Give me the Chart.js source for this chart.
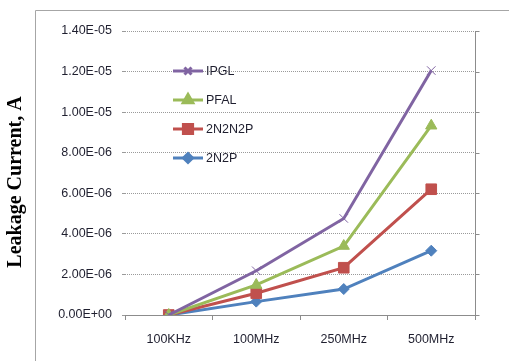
<!DOCTYPE html>
<html>
<head>
<meta charset="utf-8">
<script src="https://cdn.jsdelivr.net/npm/chart.js@4"></script>
<style>
  html, body { margin: 0; padding: 0; background: #fff; }
  #wrap { width: 509px; height: 361px; position: relative; }
</style>
</head>
<body>
<div id="wrap"><canvas id="leakChart"></canvas></div>
<script>
// Frequencies on the x axis
const frequencies = ['100KHz', '100MHz', '250MHz', '500MHz'];

// Leakage current (A) per logic family
const ipgl = [0, 2.18e-6, 4.76e-6, 12.05e-6];
const pfal = [0, 1.48e-6, 3.40e-6, 9.33e-6];
const n2n2p = [0, 1.07e-6, 2.33e-6, 6.20e-6];
const n2p = [0, 0.66e-6, 1.28e-6, 3.17e-6];

const seriesNames = ['IPGL', 'PFAL', '2N2N2P', '2N2P'];
const yTitle = 'Leakage Current, A';

const colors = ['#8064A2', '#9BBB59', '#C0504D', '#4F81BD'];
const markers = [
    { pointStyle: 'crossRot', radius: 6, borderWidth: 1 },
    { pointStyle: 'triangle', radius: 6.5, borderWidth: 1 },
    { pointStyle: 'rect', radius: 7.5, borderWidth: 1 },
    { pointStyle: 'rectRot', radius: 5.5, borderWidth: 1 }
];

// Excel style numbers: 1.40E-05
function sci(v) {
    if (Math.abs(v) < 1e-12) return '0.00E+00';
    const parts = v.toExponential(2).split('e');
    const n = parseInt(parts[1], 10);
    return parts[0] + 'E' + (n < 0 ? '-' : '+') + String(Math.abs(n)).padStart(2, '0');
}

const labelFont = { family: 'Liberation Sans', size: 12.5 };

// frame, right axis line, title and legend drawn by hand
const extras = {
    id: 'extras',
    beforeDraw(chart) {
        const ctx = chart.ctx;
        ctx.save();
        ctx.fillStyle = '#fff';
        ctx.fillRect(0, 0, chart.width, chart.height);
        ctx.strokeStyle = '#a6a6a6';
        ctx.lineWidth = 1;
        ctx.beginPath();
        ctx.moveTo(35.5, chart.height);
        ctx.lineTo(35.5, 10.5);
        ctx.lineTo(chart.width, 10.5);
        ctx.stroke();
        ctx.restore();
    },
    afterDatasetsDraw(chart) {
        const ctx = chart.ctx;
        const area = chart.chartArea;
        const y = chart.scales.y;
        ctx.save();
        // right hand axis line with ticks
        ctx.strokeStyle = '#8c8c8c';
        ctx.lineWidth = 1;
        ctx.beginPath();
        const rx = Math.round(area.right) + 0.5;
        ctx.moveTo(rx, area.top);
        ctx.lineTo(rx, area.bottom);
        y.ticks.forEach(t => {
            const py = Math.round(y.getPixelForValue(t.value)) + 0.5;
            ctx.moveTo(rx, py);
            ctx.lineTo(rx + 4, py);
        });
        ctx.stroke();

        // y title
        ctx.translate(16, 182);
        ctx.rotate(-Math.PI / 2);
        ctx.font = 'bold 20px "Liberation Serif"';
        ctx.fillStyle = '#000';
        ctx.textAlign = 'center';
        ctx.textBaseline = 'middle';
        ctx.fillText(yTitle, 0, 0);
        ctx.restore();

        // legend inside plot
        const legendY = [71, 100, 129, 158];
        ctx.save();
        chart.data.datasets.forEach((ds, i) => {
            const ly = legendY[i];
            ctx.strokeStyle = ds.borderColor;
            ctx.lineWidth = 3;
            ctx.beginPath();
            ctx.moveTo(173, ly);
            ctx.lineTo(203, ly);
            ctx.stroke();
            ctx.fillStyle = ds.borderColor;
            ctx.strokeStyle = ds.borderColor;
            Chart.helpers.drawPoint(ctx, {
                pointStyle: ds.pointStyle,
                radius: ds.pointRadius - 1,
                borderWidth: ds.pointBorderWidth,
                rotation: 0
            }, 188, ly);
            ctx.fillStyle = '#1f1f2f';
            ctx.font = '12.5px "Liberation Sans"';
            ctx.textAlign = 'left';
            ctx.textBaseline = 'middle';
            ctx.fillText(ds.label, 206, ly + 1);
        });
        ctx.restore();
    }
};

const values = [ipgl, pfal, n2n2p, n2p];
const datasets = seriesNames.map((name, i) => ({
    label: name,
    data: values[i],
    borderColor: colors[i],
    backgroundColor: colors[i],
    borderWidth: 3,
    tension: 0,
    pointStyle: markers[i].pointStyle,
    pointRadius: markers[i].radius,
    pointBorderWidth: markers[i].borderWidth,
    pointBackgroundColor: colors[i],
    pointBorderColor: colors[i]
}));

new Chart(document.getElementById('leakChart'), {
    type: 'line',
    data: { labels: frequencies, datasets: datasets },
    options: {
        responsive: true,
        maintainAspectRatio: false,
        animation: false,
        layout: { padding: { left: 0, top: 31, right: 34, bottom: 0 } },
        plugins: {
            legend: { display: false },
            tooltip: { enabled: false }
        },
        scales: {
            x: {
                offset: true,
                grid: {
                    offset: true,
                    drawOnChartArea: false,
                    tickLength: 5,
                    color: '#8c8c8c'
                },
                border: { color: '#8c8c8c', width: 1 },
                ticks: { color: '#1f1f2f', font: labelFont, padding: 12, maxRotation: 0 },
                afterFit(scale) { scale.height = 46; }
            },
            y: {
                min: 0,
                max: 1.4e-5,
                grid: { color: '#9a9a9a', tickLength: 3 },
                border: { display: false, dash: [1, 1] },
                ticks: {
                    stepSize: 2e-6,
                    color: '#1f1f2f',
                    font: labelFont,
                    padding: 10,
                    callback: v => sci(v)
                },
                afterFit(scale) { scale.width = 125; }
            }
        }
    },
    plugins: [extras]
});
</script>
</body>
</html>
